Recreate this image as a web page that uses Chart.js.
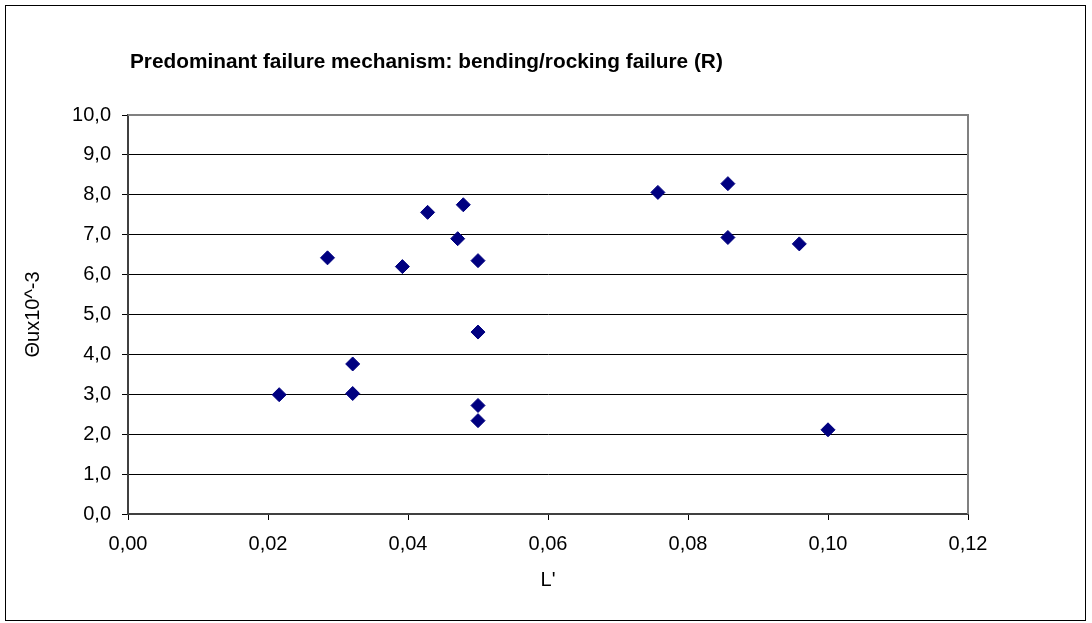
<!DOCTYPE html>
<html>
<head>
<meta charset="utf-8">
<title>Predominant failure mechanism: bending/rocking failure (R)</title>
<script src="https://cdn.jsdelivr.net/npm/chart.js@4/dist/chart.umd.min.js"></script>
<style>
  html, body { margin: 0; padding: 0; background: #fff; }
  canvas { display: block; }
</style>
</head>
<body>
<canvas id="chart" width="1092" height="623"></canvas>
<script>
// Slenderness L' against ultimate drift θu (×10^-3)
const lValues = [0.0216, 0.0285, 0.0321, 0.0321, 0.0392, 0.0428, 0.0471, 0.0479, 0.0500, 0.0500, 0.0500, 0.0500, 0.0757, 0.0857, 0.0857, 0.0959, 0.1000];
const thetaValues = [2.99, 6.42, 3.76, 3.02, 6.20, 7.56, 6.90, 7.75, 6.35, 4.56, 2.72, 2.34, 8.06, 8.28, 6.93, 6.77, 2.11];

const xTickLabels = ['0,00', '0,02', '0,04', '0,06', '0,08', '0,10', '0,12'];
const yTickLabels = ['0,0', '1,0', '2,0', '3,0', '4,0', '5,0', '6,0', '7,0', '8,0', '9,0', '10,0'];

const chartTitle = 'Predominant failure mechanism: bending/rocking failure (R)';
const xAxisTitle = "L'";
const yAxisTitle = 'Θux10^-3';

const FONT = '"Liberation Sans", Arial, sans-serif';

const points = lValues.map((x, i) => ({ x: x, y: thetaValues[i] }));

// Frame, plot border on the top/right sides and the left-aligned title
const framePlugin = {
  id: 'frame',
  beforeDraw(chart) {
    const ctx = chart.ctx;
    ctx.save();
    ctx.fillStyle = '#ffffff';
    ctx.fillRect(0, 0, chart.width, chart.height);
    ctx.strokeStyle = '#000000';
    ctx.lineWidth = 1;
    ctx.strokeRect(5.5, 5.5, 1080, 615);
    ctx.restore();
  },
  beforeDatasetsDraw(chart) {
    const { ctx, chartArea: a } = chart;
    ctx.save();
    ctx.strokeStyle = '#808080';
    ctx.lineWidth = 2;
    ctx.beginPath();
    ctx.moveTo(a.left, a.top);
    ctx.lineTo(a.right, a.top);
    ctx.lineTo(a.right, a.bottom);
    ctx.stroke();
    ctx.restore();
  },
  afterDraw(chart) {
    const ctx = chart.ctx;
    ctx.save();
    ctx.fillStyle = '#000000';
    ctx.font = 'bold 20.8px ' + FONT;
    ctx.textAlign = 'left';
    ctx.textBaseline = 'alphabetic';
    ctx.fillText(chartTitle, 130, 68);
    ctx.restore();
  }
};

new Chart(document.getElementById('chart'), {
  type: 'scatter',
  data: {
    datasets: [{
      data: points,
      pointStyle: 'rectRot',
      pointRadius: 7,
      pointHoverRadius: 7,
      backgroundColor: '#000080',
      borderColor: '#000080',
      borderWidth: 1
    }]
  },
  options: {
    responsive: false,
    animation: false,
    events: [],
    layout: { padding: { left: 10, right: 124, top: 115, bottom: 20 } },
    plugins: {
      legend: { display: false },
      tooltip: { enabled: false },
      title: { display: false }
    },
    scales: {
      x: {
        type: 'linear',
        min: 0,
        max: 0.12,
        afterBuildTicks(scale) {
          scale.ticks = xTickLabels.map((_, i) => ({ value: i * 0.02 }));
        },
        afterFit(scale) { scale.height = 89; },
        grid: {
          drawOnChartArea: false,
          drawTicks: true,
          tickLength: 6,
          tickColor: '#000000',
          tickWidth: 1
        },
        border: { display: true, color: '#404040', width: 2 },
        ticks: {
          padding: 12,
          color: '#000000',
          font: { family: FONT, size: 20 },
          maxRotation: 0,
          autoSkip: false,
          callback: (v, i) => xTickLabels[i]
        },
        title: {
          display: true,
          text: xAxisTitle,
          color: '#000000',
          font: { family: FONT, size: 20 },
          padding: { top: 0, bottom: 11 }
        }
      },
      y: {
        type: 'linear',
        min: 0,
        max: 10,
        afterBuildTicks(scale) {
          scale.ticks = yTickLabels.map((_, i) => ({ value: i }));
        },
        afterFit(scale) { scale.width = 118; },
        grid: {
          drawOnChartArea: true,
          drawTicks: true,
          tickLength: 6,
          color: (c) => (c.tick && c.tick.value === 10 ? '#808080' : '#000000'),
          lineWidth: 1,
          tickColor: '#000000',
          tickWidth: 1
        },
        border: { display: true, color: '#404040', width: 2 },
        ticks: {
          padding: 11,
          color: '#000000',
          font: { family: FONT, size: 20 },
          autoSkip: false,
          callback: (v, i) => yTickLabels[i]
        },
        title: {
          display: true,
          text: yAxisTitle,
          color: '#000000',
          font: { family: FONT, size: 20 },
          padding: { top: 11, bottom: 0 }
        }
      }
    }
  },
  plugins: [framePlugin]
});
</script>
</body>
</html>
